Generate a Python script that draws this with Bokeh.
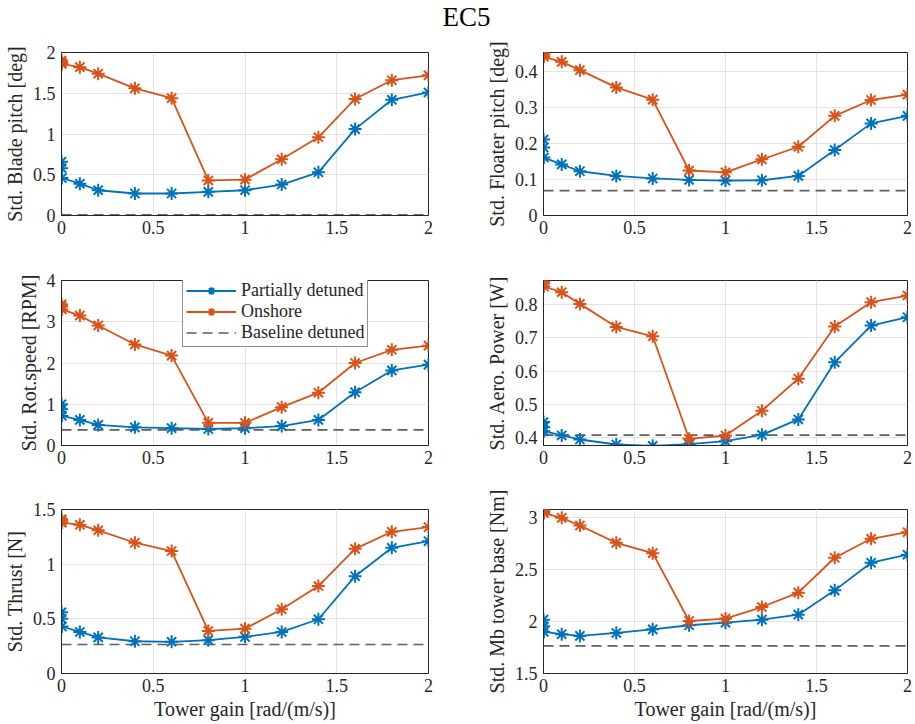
from bokeh.plotting import figure
from bokeh.layouts import column, row
from bokeh.models import Range1d, FixedTicker, Label
from bokeh.embed import file_html
from bokeh.resources import INLINE

# ---------------- data ----------------
gains = [0, 0.001, 0.002, 0.1, 0.2, 0.4, 0.6, 0.8, 1.0, 1.2, 1.4, 1.6, 1.8, 2.0]

blade_partial = [0.66, 0.58, 0.46, 0.39, 0.31, 0.27, 0.27, 0.29, 0.31, 0.38, 0.53, 1.06, 1.42, 1.51]
blade_onshore = [1.90, 1.88, 1.86, 1.82, 1.74, 1.56, 1.44, 0.43, 0.44, 0.69, 0.96, 1.43, 1.66, 1.72]
blade_baseline = 0.01

floater_partial = [0.211, 0.189, 0.161, 0.142, 0.123, 0.110, 0.103, 0.099, 0.097, 0.098, 0.110, 0.182, 0.256, 0.277]
floater_onshore = [0.452, 0.447, 0.441, 0.427, 0.404, 0.356, 0.322, 0.125, 0.120, 0.156, 0.191, 0.277, 0.321, 0.336]
floater_baseline = 0.069

rot_partial = [1.00, 0.88, 0.72, 0.62, 0.50, 0.44, 0.42, 0.40, 0.42, 0.47, 0.62, 1.29, 1.82, 1.96]
rot_onshore = [3.42, 3.37, 3.30, 3.15, 2.91, 2.45, 2.18, 0.55, 0.55, 0.93, 1.28, 2.00, 2.32, 2.42]
rot_baseline = 0.38

aero_partial = [0.447, 0.432, 0.420, 0.407, 0.395, 0.380, 0.376, 0.381, 0.390, 0.409, 0.455, 0.626, 0.736, 0.761]
aero_onshore = [0.868, 0.862, 0.853, 0.836, 0.801, 0.732, 0.704, 0.397, 0.407, 0.481, 0.577, 0.733, 0.806, 0.826]
aero_baseline = 0.408

thrust_partial = [0.56, 0.50, 0.43, 0.38, 0.33, 0.295, 0.29, 0.305, 0.335, 0.38, 0.496, 0.89, 1.15, 1.21]
thrust_onshore = [1.41, 1.40, 1.38, 1.36, 1.31, 1.196, 1.12, 0.389, 0.41, 0.587, 0.80, 1.14, 1.296, 1.339]
thrust_baseline = 0.265

mb_partial = [2.017, 1.953, 1.899, 1.877, 1.861, 1.889, 1.924, 1.963, 1.988, 2.017, 2.065, 2.298, 2.563, 2.64]
mb_onshore = [3.07, 3.06, 3.04, 2.994, 2.92, 2.754, 2.655, 2.004, 2.027, 2.138, 2.276, 2.611, 2.793, 2.856]
mb_baseline = 1.765

x_ticks = [0, 0.5, 1, 1.5, 2]
x_tick_labels = ["0", "0.5", "1", "1.5", "2"]

blade_ticks = [0, 0.5, 1, 1.5, 2]
blade_tick_labels = ["0", "0.5", "1", "1.5", "2"]
floater_ticks = [0, 0.1, 0.2, 0.3, 0.4]
floater_tick_labels = ["0", "0.1", "0.2", "0.3", "0.4"]
rot_ticks = [0, 1, 2, 3, 4]
rot_tick_labels = ["0", "1", "2", "3", "4"]
aero_ticks = [0.4, 0.5, 0.6, 0.7, 0.8]
aero_tick_labels = ["0.4", "0.5", "0.6", "0.7", "0.8"]
thrust_ticks = [0, 0.5, 1, 1.5]
thrust_tick_labels = ["0", "0.5", "1", "1.5"]
mb_ticks = [1.5, 2, 2.5, 3]
mb_tick_labels = ["1.5", "2", "2.5", "3"]

series_names = ["Partially detuned", "Onshore", "Baseline detuned"]
title_text = "EC5"
x_label = "Tower gain [rad/(m/s)]"

# ---------------- style ----------------
FONT = "Liberation Serif"
BLUE = "#0072BD"
ORANGE = "#D95319"
GRAY = "#5f5f5f"
AX = "#262626"


def panel(ylabel, partial, onshore, baseline, yr, yt, ytl, w, h, bl, br, bt, bb,
          xlabel=None, legend=False):
    p = figure(width=w, height=h, x_range=Range1d(0, 2), y_range=Range1d(*yr),
               toolbar_location=None, output_backend="svg",
               min_border_left=bl, min_border_right=br,
               min_border_top=bt, min_border_bottom=bb)
    p.outline_line_color = AX
    p.outline_line_width = 1
    p.background_fill_color = "white"
    p.border_fill_color = "white"

    for ax in (p.xaxis[0], p.yaxis[0]):
        ax.axis_line_color = AX
        ax.major_tick_line_color = None
        ax.major_tick_in = 0
        ax.major_tick_out = 0
        ax.minor_tick_line_color = None
        ax.major_label_text_font = FONT
        ax.major_label_text_font_size = "18px"
        ax.major_label_text_color = AX
        ax.axis_label_text_font = FONT
        ax.axis_label_text_font_size = "20px"
        ax.axis_label_text_font_style = "normal"
        ax.axis_label_text_color = AX

    p.xaxis.ticker = FixedTicker(ticks=x_ticks)
    p.xaxis.major_label_overrides = dict(zip(x_ticks, x_tick_labels))
    p.xaxis.major_label_standoff = 5
    p.yaxis.ticker = FixedTicker(ticks=yt)
    p.yaxis.major_label_overrides = dict(zip(yt, ytl))
    p.yaxis.major_label_standoff = 6
    p.yaxis.axis_label = ylabel
    p.yaxis.axis_label_standoff = 4
    if xlabel:
        p.xaxis.axis_label = xlabel
        p.xaxis.axis_label_standoff = 3

    p.xgrid.ticker = FixedTicker(ticks=x_ticks)
    p.ygrid.ticker = FixedTicker(ticks=yt)
    p.grid.grid_line_color = "#e3e3e3"
    p.grid.grid_line_width = 1

    kw_l = {}
    kw_o = {}
    kw_b = {}
    if legend:
        kw_l = dict(legend_label=series_names[0])
        kw_o = dict(legend_label=series_names[1])
        kw_b = dict(legend_label=series_names[2])

    p.line([gains[0], gains[-1]], [baseline, baseline], line_color=GRAY,
           line_width=1.6, line_dash="10 6", **kw_b)
    p.line(gains, partial, line_color=BLUE, line_width=1.8, **kw_l)
    p.scatter(gains, partial, marker="asterisk", size=13, line_color=BLUE,
              line_width=2, **kw_l)
    p.line(gains, onshore, line_color=ORANGE, line_width=1.8, **kw_o)
    p.scatter(gains, onshore, marker="asterisk", size=13, line_color=ORANGE,
              line_width=2, **kw_o)

    if legend:
        lg = p.legend[0]
        items = {it.label.value: it for it in lg.items}
        lg.items = [items[n] for n in series_names]
        lg.location = (121, 98)
        lg.margin = 0
        lg.padding = 3
        lg.spacing = 0
        lg.glyph_width = 50
        lg.glyph_height = 19
        lg.label_height = 19
        lg.label_standoff = 5
        lg.label_text_font = FONT
        lg.label_text_font_size = "18px"
        lg.label_text_color = AX
        lg.border_line_color = AX
        lg.border_line_width = 1
        lg.background_fill_alpha = 1
    return p


# title strip
t = figure(width=915, height=30, x_range=Range1d(0, 1), y_range=Range1d(0, 1),
           toolbar_location=None, output_backend="svg", min_border=0)
t.outline_line_color = None
t.axis.visible = False
t.grid.visible = False
t.add_layout(Label(x=466, y=14, x_units="screen", y_units="screen", text=title_text,
                   text_align="center", text_baseline="middle", text_font=FONT,
                   text_font_size="27px", text_color="black"))

LW, RW = 457, 458
p1 = panel("Std. Blade pitch [deg]", blade_partial, blade_onshore, blade_baseline,
           (0, 2), blade_ticks, blade_tick_labels, LW, 228, 61, 29, 22, 43)
p2 = panel("Std. Floater pitch [deg]", floater_partial, floater_onshore, floater_baseline,
           (0, 0.453), floater_ticks, floater_tick_labels, RW, 228, 86, 8, 22, 43)
p3 = panel("Std. Rot.speed [RPM]", rot_partial, rot_onshore, rot_baseline,
           (0, 4), rot_ticks, rot_tick_labels, LW, 229, 61, 29, 22, 42, legend=True)
p4 = panel("Std. Aero. Power [W]", aero_partial, aero_onshore, aero_baseline,
           (0.377, 0.871), aero_ticks, aero_tick_labels, RW, 229, 86, 8, 22, 42)
p5 = panel("Std. Thrust [N]", thrust_partial, thrust_onshore, thrust_baseline,
           (0, 1.5), thrust_ticks, thrust_tick_labels, LW, 237, 61, 29, 22, 51,
           xlabel=x_label)
p6 = panel("Std. Mb tower base [Nm]", mb_partial, mb_onshore, mb_baseline,
           (1.5, 3.074), mb_ticks, mb_tick_labels, RW, 237, 86, 8, 22, 51,
           xlabel=x_label)

layout = column(t, row(p1, p2), row(p3, p4), row(p5, p6))
open("out.html", "w").write(file_html(layout, INLINE))
